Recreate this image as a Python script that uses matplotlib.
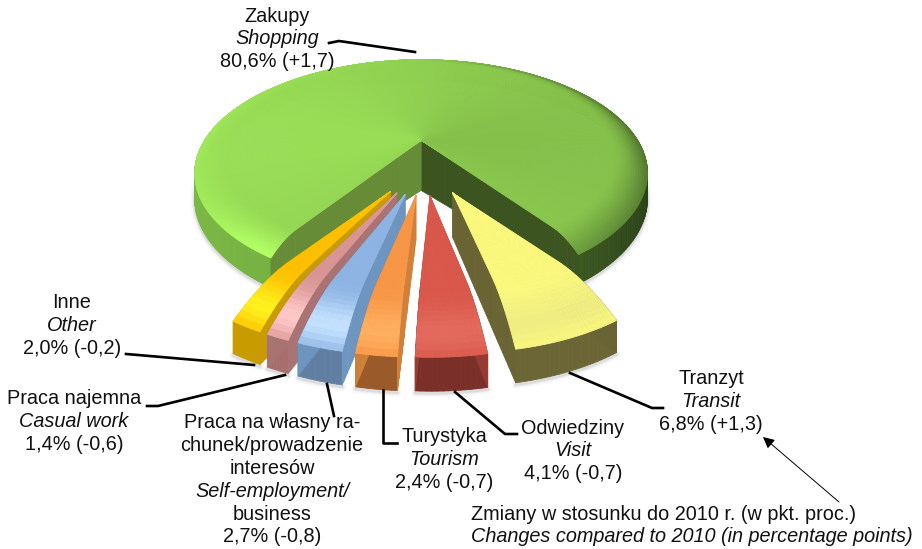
import numpy as np
import matplotlib
matplotlib.use("Agg")
import matplotlib.pyplot as plt
from matplotlib.collections import PolyCollection

plt.rcParams['font.family'] = ['Liberation Sans', 'DejaVu Sans']

# ---- data -------------------------------------------------------------
names_pl = ["Zakupy", "Tranzyt", "Odwiedziny", "Turystyka",
            "Praca na własny ra-\nchunek/prowadzenie\ninteresów", "Praca najemna", "Inne"]
names_en = ["Shopping", "Transit", "Visit", "Tourism",
            "Self-employment/\nbusiness", "Casual work", "Other"]
shares = [80.6, 6.8, 4.1, 2.4, 2.7, 1.4, 2.0]
changes = [1.7, 1.3, -0.7, -0.7, -0.8, -0.6, -0.2]

# ---- style ------------------------------------------------------------
label_pos = [(277, 16), (711, 379), (573, 428), (444, 437), (272, 423), (74, 399), (72, 303)]
leaders = [[(329, 43), (339, 41), (415, 52)],
           [(570, 373), (652, 408), (663, 408)],
           [(455, 392), (505, 434), (517, 434)],
           [(383, 390), (383, 443), (397, 443)],
           [(327, 384), (334, 416)],
           [(285, 375), (158, 406), (147, 406)],
           [(254, 365), (138, 355), (126, 354)]]
top_c = [(143, 207, 80), (251, 249, 125), (217, 88, 75), (247, 150, 70),
         (141, 180, 227), (217, 150, 148), (255, 192, 0)]
hi_c = [(175, 245, 100), (240, 238, 130), (226, 105, 92), (255, 175, 95),
        (195, 225, 255), (255, 200, 200), (255, 240, 30)]
wall_c = [(112, 168, 62), (108, 102, 54), (122, 47, 40), (154, 90, 42),
          (96, 127, 163), (166, 110, 109), (200, 155, 0)]
side_c = [(102, 140, 55), (106, 100, 52), (150, 60, 50), (208, 128, 58),
          (110, 149, 191), (170, 115, 115), (200, 155, 0)]
CY, R = 164, 225
ZS = 30.0
THETA_R = 36.0
# green slice / front slices geometry
P_GREEN = dict(cx=422, a=0.22, e=0.22, rad=1.03, rb=113, r0=0.86, drop=0.30, h=1.15)
P_FRONT = dict(cx=425, a=0.20, e=0.29, rad=0.95, rb=104, r0=0.68, drop=0.55, h=1.40)


def project(x, y, z, P):
    w = 1 - P['a'] * y
    return P['cx'] + R * x / w, CY + P['rb'] * y / w - ZS * z / w


def col(c):
    return np.array(c, float) / 255


def add_quads(ax, polys, colors, z):
    pc = PolyCollection(polys, facecolors=np.clip(colors, 0, 1), edgecolors='face',
                        linewidths=0.6, zorder=z)
    ax.add_collection(pc)


fig = plt.figure(figsize=(9.22, 5.49), dpi=100)
ax = fig.add_axes([0, 0, 1, 1])
ax.set_xlim(0, 922)
ax.set_ylim(549, 0)
ax.axis('off')

spans = np.array(shares) * 3.6
ranges = [(THETA_R, THETA_R + spans[0])]
cur = THETA_R
for s in spans[1:]:
    ranges.append((cur - s, cur))
    cur -= s


def draw_slice(i, z0):
    green = i == 0
    P = P_GREEN if green else P_FRONT
    t0, t1 = ranges[i]
    mid = np.radians((t0 + t1) / 2)
    ax0, ay0 = P['e'] * np.sin(mid), P['e'] * np.cos(mid)
    ths = np.linspace(t0, t1, int(max(8, (t1 - t0) / 1.0)))
    r0 = P['r0']
    rs = np.concatenate([np.linspace(0, r0, 6), np.linspace(r0, 1, 16)[1:]])

    def zprof(r):
        return -P['drop'] * np.clip((r - r0) / (1 - r0), 0, 1) ** 2

    def hgt(r):
        return P['h'] + (0.6 * (1 - r) if green else 0.0)

    def pt(r, th, z):
        a = np.radians(th)
        return project(ax0 + P['rad'] * r * np.sin(a), ay0 + P['rad'] * r * np.cos(a), z, P)

    # soft shadow below the outer rim
    sx, sy = zip(*[pt(1.0, th, -hgt(1.0) - 0.05) for th in ths])
    for lw, al in ((6, .04), (3.5, .07), (2, .10)):
        ax.plot(sx, sy, color='#555555', alpha=al, lw=lw, zorder=z0 - 0.5,
                solid_capstyle='round')

    # outer wall
    polys, cols = [], []
    for a, b in zip(ths[:-1], ths[1:]):
        polys.append([pt(1, a, zprof(1.0)), pt(1, b, zprof(1.0)),
                      pt(1, b, -hgt(1.0)), pt(1, a, -hgt(1.0))])
        if green:
            x = np.sin(np.radians(a))
            c = col(wall_c[0]) * (1 - 0.62 * max(x, 0) ** 0.5) * (1 + 0.10 * max(-x, 0))
        else:
            c = col(wall_c[i])
        cols.append(c)
    add_quads(ax, polys, cols, z0)

    # radial walls
    for th, cc in ((t0, (60, 84, 32) if green else side_c[i]), (t1, side_c[i])):
        polys = [[pt(a, th, zprof(a)), pt(b, th, zprof(b)),
                  pt(b, th, -hgt(b)), pt(a, th, -hgt(a))] for a, b in zip(rs[:-1], rs[1:])]
        add_quads(ax, polys, [col(cc)] * len(polys), z0 + 0.1)

    # top surface with rounded rim
    polys, cols = [], []
    for a, b in zip(ths[:-1], ths[1:]):
        x = np.sin(np.radians((a + b) / 2))
        y = np.cos(np.radians((a + b) / 2))
        for p, q in zip(rs[:-1], rs[1:]):
            polys.append([pt(p, a, zprof(p)), pt(q, a, zprof(q)),
                          pt(q, b, zprof(q)), pt(p, b, zprof(p))])
            t = np.clip(((p + q) / 2 - r0) / (1 - r0), 0, 1)
            if green:
                c = col(top_c[0]) * (1 - 0.07 * x)
                if x < 0:
                    rim = 1 + 0.05 * (-x) + 0.22 * np.exp(-((x + 0.6) / 0.25) ** 2) * max(y, 0)
                else:
                    rim = 1 - 0.38 * x
                c = c * (1 + (rim - 1) * t ** 1.5)
            else:
                c = col(top_c[i]) + (col(hi_c[i]) - col(top_c[i])) * np.sin(np.pi * t ** 2 * 0.9) ** 1.5
            cols.append(c)
    add_quads(ax, polys, cols, z0 + 0.2)


for n, i in enumerate([0, 6, 5, 4, 3, 1, 2]):
    draw_slice(i, 2 + n)


# ---- labels -----------------------------------------------------------
def fmt(v):
    return f"{v:.1f}".replace('.', ',')


FS = 14.3
DY = 22.8
for i, (px, py) in enumerate(label_pos):
    y = py
    lines = [(s, 'normal') for s in names_pl[i].split('\n')]
    lines += [(s, 'italic') for s in names_en[i].split('\n')]
    if i == 4:  # "business" is upright in the reference
        lines[-1] = (lines[-1][0], 'normal')
    lines.append((f"{fmt(shares[i])}% ({'+' if changes[i] > 0 else '-'}{fmt(abs(changes[i]))})", 'normal'))
    for s, st in lines:
        ax.text(px, y, s, ha='center', va='center', fontsize=FS, style=st, color='#111111', zorder=30)
        y += DY

for pts in leaders:
    xs, ys = zip(*pts)
    ax.plot(xs, ys, color='black', lw=1.9, zorder=25, solid_joinstyle='round')

ax.text(471, 514, "Zmiany w stosunku do 2010 r. (w pkt. proc.)", ha='left', va='center',
        fontsize=FS, color='#111111', zorder=30)
ax.text(471, 537, "Changes compared to 2010 (in percentage points)", ha='left', va='center',
        fontsize=FS, style='italic', color='#111111', zorder=30)
ax.annotate("", xy=(763, 437), xytext=(839, 502),
            arrowprops=dict(arrowstyle='-|>', lw=0.7, color='black', mutation_scale=17,
                            shrinkA=0, shrinkB=0), zorder=30)

fig.savefig("out.png", dpi=100)
